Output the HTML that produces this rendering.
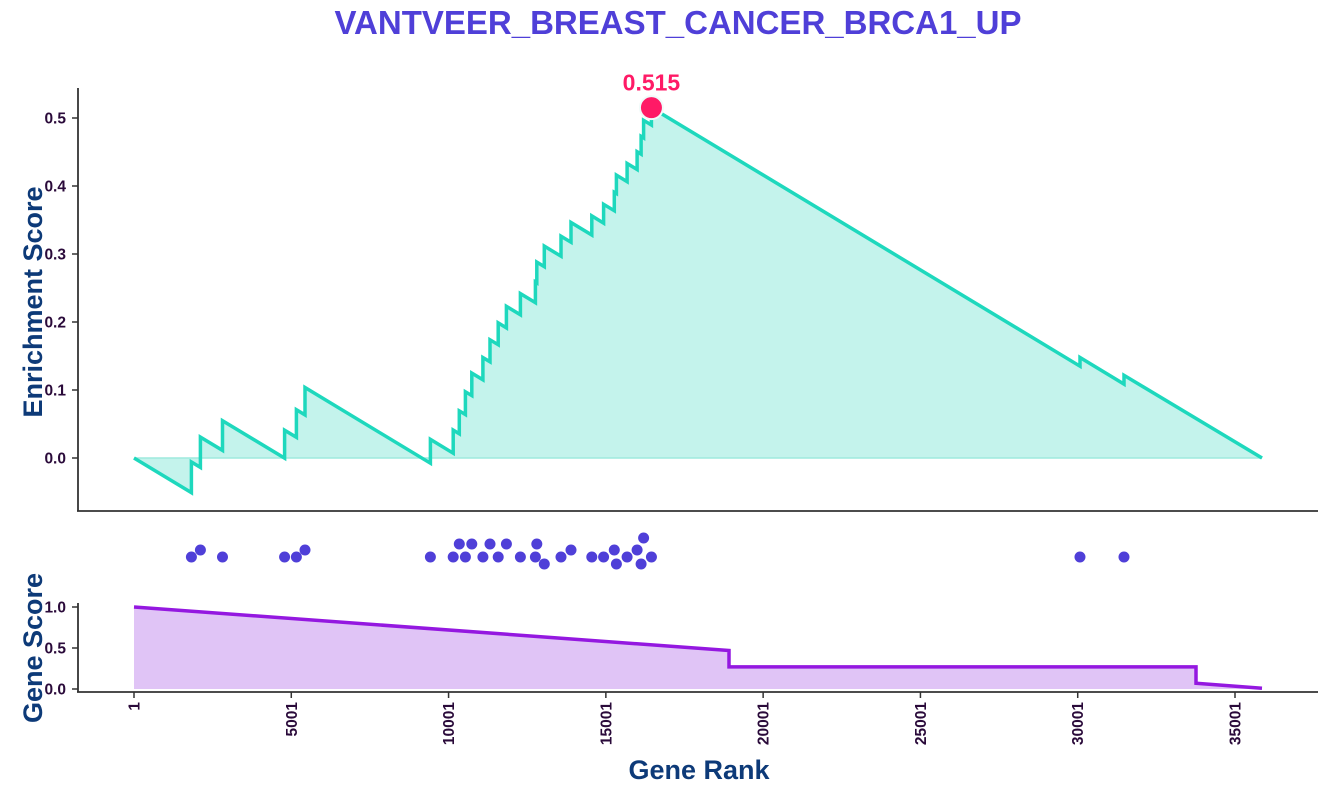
<!DOCTYPE html>
<html><head><meta charset="utf-8"><style>
html,body{margin:0;padding:0;background:#fff;}
svg{display:block;font-family:"Liberation Sans",Arial,sans-serif;}
</style></head><body>
<svg id="chart" width="1334" height="794" xmlns="http://www.w3.org/2000/svg">
<text x="678" y="34" text-anchor="middle" font-size="33" font-weight="bold" fill="#4f3fd8">VANTVEER_BREAST_CANCER_BRCA1_UP</text>
<text transform="translate(42,302) rotate(-90)" text-anchor="middle" font-size="27" font-weight="bold" fill="#0d3a78">Enrichment Score</text>
<text transform="translate(42,648) rotate(-90)" text-anchor="middle" font-size="27" font-weight="bold" fill="#0d3a78">Gene Score</text>
<text x="699" y="779" text-anchor="middle" font-size="27" font-weight="bold" fill="#0d3a78">Gene Rank</text>
<g id="topg"></g><g id="dots"></g><g id="bottom"></g><g id="axes"></g>
</svg>
<script>
const hitRanks=[1826,2112,2814,4788,5163,5437,9423,10148,10342,10536,10739,11093,11318,11579,11840,12284,12761,12806,13044,13575,13893,14554,14929,15269,15336,15676,15994,16121,16201,16450,30073,31472];
const scoreRanks=[1,18915,18916,33760,33761,35858];
const scoreValues=[1.0,0.47,0.27,0.27,0.07,0.01];
const esTicks=[0.0,0.1,0.2,0.3,0.4,0.5];
const gsTicks=[0.0,0.5,1.0];
const rankTicks=[1,5001,10001,15001,20001,25001,30001,35001];
const N=35858;

const NS="http://www.w3.org/2000/svg";
function mk(tag,attrs,parent){const e=document.createElementNS(NS,tag);for(const k in attrs)e.setAttribute(k,attrs[k]);parent.appendChild(e);return e;}
const xS=r=>134+(r-1)*(1101/35000);
const yE=v=>458-v*680;
const yG=v=>689-v*82;
function score(r){for(let i=1;i<scoreRanks.length;i++){if(r<=scoreRanks[i]){const a=scoreRanks[i-1],b=scoreRanks[i];const t=b===a?1:(r-a)/(b-a);return scoreValues[i-1]+t*(scoreValues[i]-scoreValues[i-1]);}}return scoreValues[scoreValues.length-1];}

const weights=hitRanks.map(score);
const sumW=weights.reduce((a,b)=>a+b,0);
const miss=1/(N-hitRanks.length);
let pts=[[1,0]],es=0,prev=1,maxV=-1,maxR=1;
hitRanks.forEach((r,i)=>{es-=(r-prev)*miss;pts.push([r,es]);es+=weights[i]/sumW;pts.push([r,es]);if(es>maxV){maxV=es;maxR=r;}prev=r;});
es-=(N-prev)*miss;pts.push([N,Math.max(es,0)]);
const topG=document.getElementById('topg');
let d=pts.map((p,i)=>(i?'L':'M')+xS(p[0]).toFixed(1)+','+yE(p[1]).toFixed(1)).join('');
const fill=mk('path',{d:d+'L'+xS(N)+','+yE(0)+'L'+xS(1)+','+yE(0)+'Z',fill:'#c4f3ec',stroke:'none'},topG);


const zl=mk('line',{x1:xS(1),x2:xS(N),y1:yE(0),y2:yE(0),stroke:'#9eeadd','stroke-width':1.5},topG);


const line=mk('path',{d:d,fill:'none',stroke:'#1ed8bd','stroke-width':3.5,'stroke-linejoin':'miter'},topG);


const pk=mk('circle',{cx:xS(maxR),cy:yE(maxV),r:11.5,fill:'#ff1a66',stroke:'#f0fbfa','stroke-width':2},topG);


const pl=mk('text',{x:xS(maxR),y:yE(maxV)-17,'text-anchor':'middle','font-size':23,'font-weight':'bold',fill:'#ff1a66'},topG);
pl.textContent=maxV.toFixed(3);



const dots=document.getElementById('dots');const placed=[];const R=5.5,cy=557;
hitRanks.forEach(r=>{const x=xS(r);const offs=[0,-7,7,-13,13,-19,19];let y=cy;
 for(const o of offs){const yy=cy+o;if(placed.every(p=>Math.hypot(p[0]-x,p[1]-yy)>=2*R)){y=yy;break;}}
 placed.push([x,y]);const c=mk('circle',{cx:x,cy:y,r:R,fill:'#4f3fd8'},dots);
 
 });

const bot=document.getElementById('bottom');
let gd=scoreRanks.map((r,i)=>(i?'L':'M')+xS(r).toFixed(1)+','+yG(scoreValues[i]).toFixed(1)).join('');
const ga=mk('path',{d:gd+'L'+xS(N)+','+yG(0)+'L'+xS(1)+','+yG(0)+'Z',fill:'#e0c4f6',stroke:'none'},bot);


const gl=mk('path',{d:gd,fill:'none',stroke:'#9418e0','stroke-width':3.5},bot);



const ax=document.getElementById('axes');const AC='#333';
function axLine(a,name){const l=mk('line',Object.assign({stroke:AC,'stroke-width':1.8},a),ax);}
axLine({x1:78,y1:88,x2:78,y2:511},'es-y-axis');
axLine({x1:77,y1:511,x2:1318,y2:511},'es-x-axis');
axLine({x1:78,y1:603,x2:78,y2:692},'gene-score-y-axis');
axLine({x1:77,y1:692,x2:1318,y2:692},'gene-score-x-axis');
esTicks.forEach(v=>{const y=yE(v);mk('line',{x1:72,x2:78,y1:y,y2:y,stroke:AC,'stroke-width':1.5},ax);
 const t=mk('text',{x:66,y:y+5.5,'text-anchor':'end','font-size':15.5,'font-weight':'bold',fill:'#2a0a3a'},ax);t.textContent=v.toFixed(1);
 
 });
gsTicks.forEach(v=>{const y=yG(v);mk('line',{x1:72,x2:78,y1:y,y2:y,stroke:AC,'stroke-width':1.5},ax);
 const t=mk('text',{x:66,y:y+5.5,'text-anchor':'end','font-size':15.5,'font-weight':'bold',fill:'#2a0a3a'},ax);t.textContent=v.toFixed(1);
 
 });
rankTicks.forEach(r=>{const x=xS(r);mk('line',{x1:x,x2:x,y1:692,y2:698,stroke:AC,'stroke-width':1.5},ax);
 const t=mk('text',{transform:`translate(${x+5.5},702) rotate(-90)`,'text-anchor':'end','font-size':15.5,'font-weight':'bold',fill:'#2a0a3a'},ax);t.textContent=r;
 
 });
</script>
</body></html>
